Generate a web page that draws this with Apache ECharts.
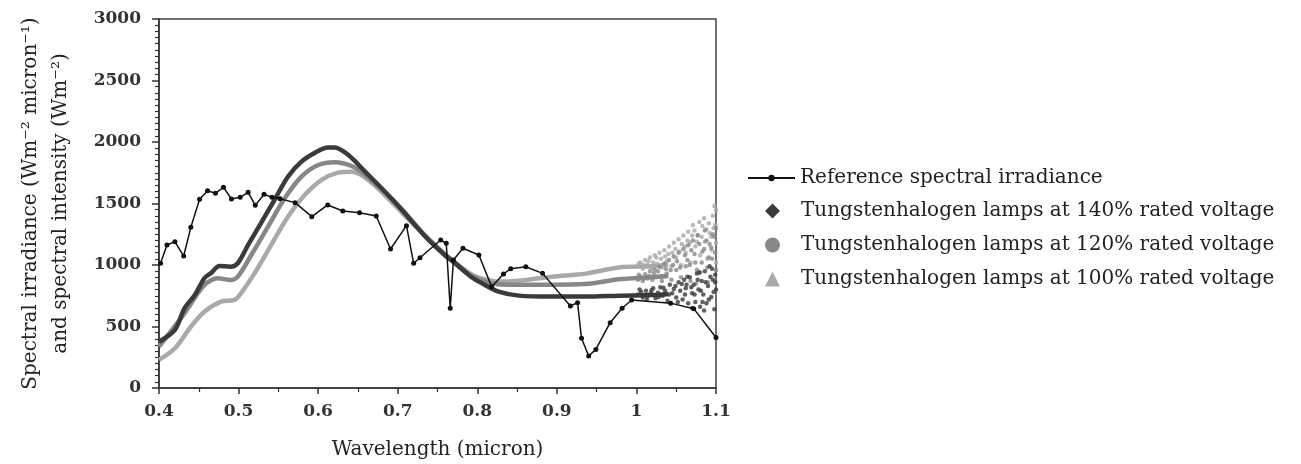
<!DOCTYPE html>
<html>
<head>
<meta charset="utf-8">
<script src="https://cdn.jsdelivr.net/npm/echarts@6/dist/echarts.min.js"></script>
<style>html,body{margin:0;padding:0;background:#fff}#c{width:1301px;height:464px}</style>
</head>
<body>
<div id="c"></div>
<script>
// Reference spectral irradiance [wavelength, value]
const refData = [[0.402,1014],[0.41,1163],[0.42,1190],[0.431,1073],[0.44,1306],[0.451,1534],[0.461,1604],[0.471,1583],[0.481,1632],[0.491,1537],[0.502,1550],[0.512,1591],[0.521,1485],[0.532,1575],[0.542,1550],[0.552,1539],[0.571,1507],[0.592,1393],[0.612,1488],[0.631,1439],[0.652,1425],[0.673,1398],[0.691,1130],[0.711,1320],[0.72,1014],[0.728,1059],[0.754,1203],[0.761,1176],[0.766,648],[0.77,1041],[0.782,1136],[0.802,1081],[0.818,824],[0.833,927],[0.842,970],[0.861,986],[0.882,932],[0.917,667],[0.926,694],[0.931,404],[0.94,260],[0.949,314],[0.967,531],[0.982,648],[0.994,715],[1.043,690],[1.072,645],[1.1,410]];

// Lamp curves (smooth part)
const lamp140 = [[0.4,376],[0.42,472],[0.432,648],[0.445,756],[0.457,892],[0.465,932],[0.476,992],[0.49,986],[0.499,1014],[0.512,1163],[0.528,1339],[0.545,1528],[0.562,1718],[0.579,1840],[0.596,1913],[0.612,1956],[0.621,1956],[0.638,1894],[0.659,1759],[0.684,1596],[0.705,1450],[0.734,1236],[0.759,1081],[0.772,1014],[0.792,905],[0.806,851],[0.827,783],[0.852,751],[0.894,743],[0.936,743],[0.978,751],[1.02,756],[1.04,765]];
const lamp120 = [[0.4,336],[0.432,607],[0.457,837],[0.474,892],[0.49,878],[0.499,905],[0.516,1081],[0.537,1312],[0.558,1542],[0.579,1718],[0.6,1813],[0.621,1835],[0.642,1805],[0.659,1732],[0.684,1590],[0.705,1455],[0.734,1240],[0.759,1085],[0.772,1020],[0.792,915],[0.812,860],[0.83,842],[0.852,840],[0.894,840],[0.936,845],[0.978,885],[1.02,900],[1.04,910]];
const lamp100 = [[0.4,228],[0.42,323],[0.44,498],[0.457,620],[0.478,702],[0.495,716],[0.503,770],[0.52,932],[0.541,1163],[0.562,1393],[0.583,1569],[0.604,1691],[0.625,1751],[0.642,1759],[0.654,1732],[0.675,1624],[0.696,1488],[0.72,1330],[0.745,1175],[0.77,1030],[0.795,915],[0.814,878],[0.826,865],[0.852,872],[0.894,905],[0.936,930],[0.978,980],[1.02,990],[1.04,1005]];

// Noisy tails beyond 1.0 micron
const noise140 = [[1.002,760],[1.006,780],[1.008,735],[1.012,790],[1.014,745],[1.018,770],[1.021,810],[1.024,730],[1.027,775],[1.03,820],[1.033,750],[1.036,790],[1.039,710],[1.042,840],[1.045,770],[1.047,805],[1.05,735],[1.053,860],[1.055,790],[1.058,720],[1.06,880],[1.062,810],[1.065,690],[1.067,900],[1.07,770],[1.072,840],[1.074,700],[1.076,930],[1.078,800],[1.08,660],[1.082,870],[1.084,760],[1.086,950],[1.088,690],[1.09,830],[1.092,990],[1.094,740],[1.096,880],[1.098,640],[1.1,800],[1.099,920],[1.085,630],[1.07,650],
  [1.004,800],[1.013,720],[1.019,795],[1.028,740],[1.034,815],[1.041,760],[1.049,830],[1.052,700],[1.057,845],[1.061,760],[1.064,905],[1.069,820],[1.073,760],[1.077,880],[1.081,790],[1.083,700],[1.087,860],[1.091,720],[1.093,905],[1.097,780],[1.099,860],[1.095,970],[1.079,940],[1.063,840]];
const noise120 = [[1.002,880],[1.005,905],[1.008,870],[1.011,925],[1.014,890],[1.017,950],[1.02,880],[1.023,960],[1.026,905],[1.029,985],[1.032,870],[1.035,1010],[1.038,930],[1.041,1040],[1.044,880],[1.047,1070],[1.05,960],[1.053,1100],[1.056,900],[1.059,1130],[1.062,990],[1.065,1160],[1.068,870],[1.071,1200],[1.074,1020],[1.077,1240],[1.08,940],[1.083,1110],[1.086,1280],[1.089,980],[1.092,1170],[1.095,1050],[1.098,1230],[1.1,960],[1.1,1300],[1.075,850],[1.09,860],
  [1.003,920],[1.009,890],[1.016,910],[1.022,930],[1.027,950],[1.031,910],[1.037,970],[1.043,960],[1.046,1000],[1.051,1030],[1.055,980],[1.061,1080],[1.064,1040],[1.069,1120],[1.073,1090],[1.076,960],[1.079,1170],[1.082,1020],[1.085,1130],[1.088,1200],[1.091,1060],[1.094,1140],[1.096,1250],[1.099,1100],[1.067,1000]];
const noise100 = [[1.002,990],[1.005,1020],[1.008,970],[1.011,1040],[1.014,1000],[1.017,1060],[1.02,975],[1.023,1080],[1.026,1010],[1.029,1100],[1.032,980],[1.035,1120],[1.038,1030],[1.041,1150],[1.044,990],[1.047,1180],[1.05,1060],[1.053,1210],[1.056,1000],[1.059,1240],[1.062,1100],[1.065,1270],[1.068,1020],[1.071,1325],[1.074,1150],[1.077,1244],[1.08,1080],[1.083,1317],[1.086,1190],[1.089,1050],[1.092,1260],[1.095,1120],[1.097,1298],[1.1,1447],[1.1,1180],[1.1,1020],
  [1.003,1010],[1.009,1000],[1.015,1030],[1.021,1020],[1.025,1060],[1.031,1050],[1.036,1070],[1.04,1090],[1.045,1100],[1.049,1130],[1.054,1110],[1.057,1170],[1.061,1150],[1.064,1200],[1.067,1180],[1.07,1240],[1.073,1280],[1.076,1190],[1.079,1350],[1.082,1230],[1.085,1380],[1.088,1290],[1.091,1340],[1.094,1230],[1.096,1400],[1.099,1330],[1.098,1480]];

const names = ['Reference spectral irradiance','Tungstenhalogen lamps at 140% rated voltage','Tungstenhalogen lamps at 120% rated voltage','Tungstenhalogen lamps at 100% rated voltage'];
const xTicks = {min:0.4, max:1.1, interval:0.1};
const yTicks = {min:0, max:3000, interval:500};

const F = 'DejaVu Serif';
const C140 = '#3a3a3a', C120 = '#878787', C100 = '#a9a9a9';
const legendText = {fontFamily:F, fontSize:20, color:'#222', lineHeight:20};

const chart = echarts.init(document.getElementById('c'));
chart.setOption({
  animation:false,
  backgroundColor:'#fff',
  grid:{left:159,right:585,top:19,bottom:76,show:true,borderColor:'#444',borderWidth:1.5,
        containLabel:false,outerBoundsMode:'none'},
  legend:[
    {orient:'vertical', left:742, top:163, itemWidth:47, itemHeight:8,
     textStyle:legendText, data:[{name:names[0]}]},
    {orient:'vertical', left:760, top:196, itemWidth:15, itemHeight:15, itemGap:14,
     textStyle:Object.assign({padding:[0,0,0,16]}, legendText),
     data:[{name:names[1],icon:'diamond'},{name:names[2],icon:'circle'},{name:names[3],icon:'triangle'}]}
  ],
  xAxis:{
    type:'value', min:xTicks.min, max:xTicks.max, interval:xTicks.interval,
    name:'Wavelength (micron)', nameLocation:'middle', nameGap:52,
    nameTextStyle:{fontFamily:F, fontSize:20, color:'#222'},
    axisLine:{lineStyle:{color:'#333',width:1.5}},
    axisTick:{length:6,lineStyle:{color:'#333',width:1.5}},
    minorTick:{show:true,splitNumber:2,length:4,lineStyle:{color:'#333',width:1.2}},
    splitLine:{show:false},
    axisLabel:{fontFamily:F,fontSize:17,fontWeight:'bold',color:'#333',margin:15,formatter:v=>String(+v.toFixed(2))}
  },
  yAxis:{
    type:'value', min:yTicks.min, max:yTicks.max, interval:yTicks.interval,
    name:'Spectral irradiance (Wm\u207B\u00B2 micron\u207B\u00B9)\nand spectral intensity (Wm\u207B\u00B2)',
    nameLocation:'middle', nameGap:83, nameRotate:90,
    nameTextStyle:{fontFamily:F, fontSize:20, color:'#222', lineHeight:30},
    axisLine:{lineStyle:{color:'#333',width:1.5}},
    axisTick:{length:7,lineStyle:{color:'#333',width:1.5}},
    minorTick:{show:true,splitNumber:10,length:4,lineStyle:{color:'#333',width:1.2}},
    splitLine:{show:false},
    axisLabel:{fontFamily:F,fontSize:17,fontWeight:'bold',color:'#333',margin:18,formatter:v=>String(v)}
  },
  series:[
    {name:names[3],type:'line',data:lamp100,smooth:0.3,showSymbol:false,color:C100,lineStyle:{width:4.5,color:C100},z:2},
    {name:names[2],type:'line',data:lamp120,smooth:0.3,showSymbol:false,color:C120,lineStyle:{width:4.5,color:C120},z:3},
    {name:names[1],type:'line',data:lamp140,smooth:0.3,showSymbol:false,color:C140,lineStyle:{width:4.5,color:C140},z:4},
    {name:names[3],type:'scatter',data:noise100,symbol:'circle',symbolSize:4.5,itemStyle:{color:C100},z:2},
    {name:names[2],type:'scatter',data:noise120,symbol:'circle',symbolSize:4.5,itemStyle:{color:C120},z:3},
    {name:names[1],type:'scatter',data:noise140,symbol:'circle',symbolSize:4.5,itemStyle:{color:C140},z:4},
    {name:names[0],type:'line',data:refData,symbol:'circle',symbolSize:5,showSymbol:true,color:'#111',
     lineStyle:{width:1.5,color:'#111'},itemStyle:{color:'#111'},z:10}
  ]
});
</script>
</body>
</html>
